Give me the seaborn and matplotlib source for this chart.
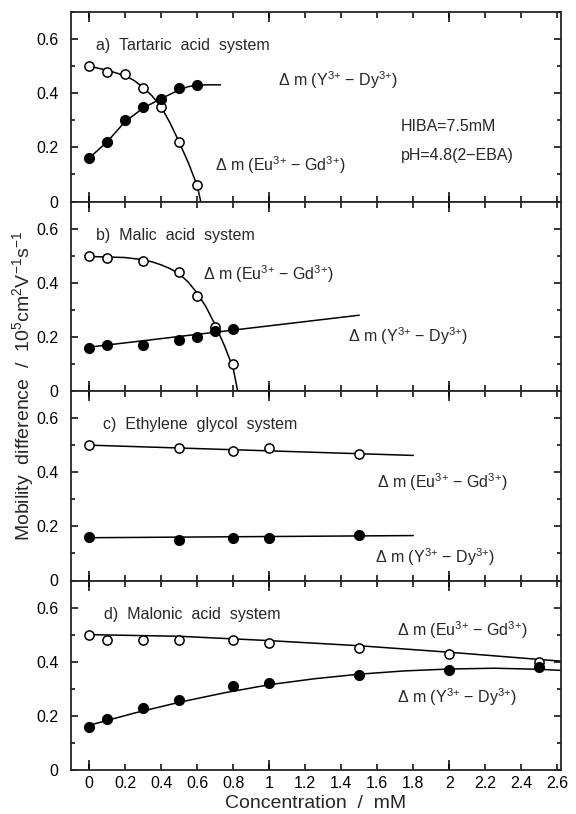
import numpy as np
import pandas as pd
import matplotlib
matplotlib.use("Agg")
import matplotlib.pyplot as plt
import seaborn as sns
from matplotlib.ticker import MultipleLocator, FixedLocator, FuncFormatter

# ---------------- data ----------------
# a) Tartaric acid system
tart_x = [0, 0.1, 0.2, 0.3, 0.4, 0.5, 0.6]
tart_eu = [0.50, 0.48, 0.47, 0.42, 0.35, 0.22, 0.06]
tart_y = [0.16, 0.22, 0.30, 0.35, 0.38, 0.42, 0.43]
tart_eu_fit_x = [0, 0.1, 0.2, 0.25, 0.3, 0.35, 0.4, 0.45, 0.5, 0.55, 0.6, 0.62]
tart_eu_fit_y = [0.50, 0.485, 0.465, 0.447, 0.422, 0.39, 0.35, 0.29, 0.22, 0.145, 0.06, 0.0]
tart_y_fit_x = [0, 0.1, 0.2, 0.3, 0.4, 0.5, 0.55, 0.6, 0.65, 0.73]
tart_y_fit_y = [0.16, 0.22, 0.295, 0.345, 0.38, 0.412, 0.424, 0.43, 0.431, 0.431]

# b) Malic acid system
mal_x = [0, 0.1, 0.3, 0.5, 0.6, 0.7, 0.8]
mal_eu = [0.50, 0.49, 0.48, 0.44, 0.35, 0.235, 0.10]
mal_y = [0.16, 0.17, 0.17, 0.19, 0.20, 0.22, 0.23]
mal_eu_fit_x = [0, 0.1, 0.2, 0.3, 0.35, 0.4, 0.45, 0.5, 0.55, 0.6, 0.65, 0.7, 0.75, 0.8, 0.825]
mal_eu_fit_y = [0.497, 0.495, 0.493, 0.485, 0.477, 0.466, 0.452, 0.433, 0.403, 0.362, 0.31, 0.245, 0.17, 0.085, 0.0]
mal_y_fit_x = [0, 1.5]
mal_y_fit_y = [0.162, 0.280]

# c) Ethylene glycol system
eth_x = [0, 0.5, 0.8, 1.0, 1.5]
eth_eu = [0.50, 0.49, 0.48, 0.488, 0.468]
eth_y = [0.16, 0.15, 0.158, 0.158, 0.167]
eth_eu_fit_x = [0, 1.8]
eth_eu_fit_y = [0.50, 0.462]
eth_y_fit_x = [0, 1.8]
eth_y_fit_y = [0.158, 0.166]

# d) Malonic acid system
maln_x = [0, 0.1, 0.3, 0.5, 0.8, 1.0, 1.5, 2.0, 2.5]
maln_eu = [0.50, 0.48, 0.48, 0.48, 0.48, 0.47, 0.45, 0.43, 0.40]
maln_y = [0.16, 0.19, 0.23, 0.26, 0.31, 0.32, 0.35, 0.37, 0.38]
maln_eu_fit_x = [0, 0.5, 1.0, 1.5, 2.0, 2.3, 2.62]
maln_eu_fit_y = [0.500, 0.494, 0.478, 0.459, 0.435, 0.419, 0.402]
maln_y_fit_x = [0, 0.25, 0.5, 0.75, 1.0, 1.25, 1.5, 1.75, 2.0, 2.25, 2.5, 2.62]
maln_y_fit_y = [0.165, 0.21, 0.25, 0.285, 0.315, 0.337, 0.354, 0.366, 0.373, 0.376, 0.372, 0.368]

panel_titles = ["a)  Tartaric  acid  system", "b)  Malic  acid  system",
                "c)  Ethylene  glycol  system", "d)  Malonic  acid  system"]
x_ticks = [0, 0.2, 0.4, 0.6, 0.8, 1.0, 1.2, 1.4, 1.6, 1.8, 2.0, 2.2, 2.4, 2.6]
y_ticks = [0, 0.2, 0.4, 0.6]

EU_LABEL = "\u0394 m (Eu$^{3{+}}$ \u2212 Gd$^{3{+}}$)"
Y_LABEL = "\u0394 m (Y$^{3{+}}$ \u2212 Dy$^{3{+}}$)"

panels = [
    dict(x=tart_x, eu=tart_eu, y=tart_y,
         eufx=tart_eu_fit_x, eufy=tart_eu_fit_y, yfx=tart_y_fit_x, yfy=tart_y_fit_y,
         title_x=0.04, eu_pos=(0.70, 0.135), y_pos=(1.05, 0.447)),
    dict(x=mal_x, eu=mal_eu, y=mal_y,
         eufx=mal_eu_fit_x, eufy=mal_eu_fit_y, yfx=mal_y_fit_x, yfy=mal_y_fit_y,
         title_x=0.04, eu_pos=(0.635, 0.432), y_pos=(1.44, 0.203)),
    dict(x=eth_x, eu=eth_eu, y=eth_y,
         eufx=eth_eu_fit_x, eufy=eth_eu_fit_y, yfx=eth_y_fit_x, yfy=eth_y_fit_y,
         title_x=0.08, eu_pos=(1.60, 0.362), y_pos=(1.59, 0.085)),
    dict(x=maln_x, eu=maln_eu, y=maln_y,
         eufx=maln_eu_fit_x, eufy=maln_eu_fit_y, yfx=maln_y_fit_x, yfy=maln_y_fit_y,
         title_x=0.085, eu_pos=(1.71, 0.516), y_pos=(1.71, 0.269)),
]

# ---------------- style ----------------
sns.set_style("ticks")
plt.rcParams["font.family"] = ["Liberation Sans", "DejaVu Sans"]
plt.rcParams["mathtext.fontset"] = "custom"
plt.rcParams["mathtext.rm"] = "Liberation Sans"
plt.rcParams["mathtext.it"] = "Liberation Sans:italic"
plt.rcParams["mathtext.bf"] = "Liberation Sans:bold"
plt.rcParams["axes.linewidth"] = 1.3

W, H = 576, 814
fig = plt.figure(figsize=(W / 100, H / 100), dpi=100)

left_px, right_px = 71, 561
top_px, bottom_px = 12, 770
ph = (bottom_px - top_px) / 4.0

fmt = FuncFormatter(lambda v, p: "%g" % round(v, 2))

for i, p in enumerate(panels):
    y0 = top_px + i * ph
    ax = fig.add_axes([left_px / W, 1 - (y0 + ph) / H, (right_px - left_px) / W, ph / H])

    sns.lineplot(x=p["eufx"], y=p["eufy"], ax=ax, color="black", lw=1.1,
                 sort=False, estimator=None, zorder=2)
    sns.lineplot(x=p["yfx"], y=p["yfy"], ax=ax, color="black", lw=1.1,
                 sort=False, estimator=None, zorder=2)
    sns.scatterplot(x=p["x"], y=p["eu"], ax=ax, marker="o", s=44,
                    facecolor="white", edgecolor="black", linewidth=1.1, zorder=3)
    sns.scatterplot(x=p["x"], y=p["y"], ax=ax, marker="o", s=52,
                    color="black", edgecolor="black", linewidth=0.8, zorder=4)

    ax.set_xlim(-0.1, 2.62)
    ax.set_ylim(0, 0.7)

    ax.xaxis.set_major_locator(FixedLocator(x_ticks))
    ax.xaxis.set_minor_locator(FixedLocator([0, 1, 2]))
    ax.xaxis.remove_overlapping_locs = False
    ax.yaxis.set_major_locator(FixedLocator(y_ticks))
    ax.yaxis.set_minor_locator(MultipleLocator(0.1))
    ax.yaxis.set_major_formatter(fmt)
    ax.xaxis.set_major_formatter(fmt)

    ax.tick_params(axis="both", which="both", direction="in",
                   top=True, right=True, width=1.1, colors="black")
    ax.tick_params(axis="x", which="major", length=4, labelsize=11.5, pad=4)
    ax.tick_params(axis="x", which="minor", length=7)
    ax.tick_params(axis="y", which="major", length=5, labelsize=11.5, pad=9)
    ax.tick_params(axis="y", which="minor", length=3)
    if i < 3:
        ax.tick_params(axis="x", labelbottom=False)

    ax.set_xlabel("")
    ax.set_ylabel("")
    for s in ax.spines.values():
        s.set_visible(True)
        s.set_linewidth(1.3)

    ax.text(p["title_x"], 0.575, panel_titles[i], fontsize=11.5, va="center", ha="left")
    ax.text(p["eu_pos"][0], p["eu_pos"][1], EU_LABEL, fontsize=11.5, va="center", ha="left")
    ax.text(p["y_pos"][0], p["y_pos"][1], Y_LABEL, fontsize=11.5, va="center", ha="left")
    if i == 0:
        ax.text(1.73, 0.277, "HIBA=7.5mM", fontsize=11.5, va="center", ha="left")
        ax.text(1.73, 0.17, "pH=4.8(2\u2212EBA)", fontsize=11.5, va="center", ha="left")

fig.text(23 / W, 1 - 386 / H,
         "Mobility  difference  /  10$^{5}$cm$^{2}$V$^{-1}$s$^{-1}$",
         rotation=90, va="center", ha="center", fontsize=14)
fig.text(((left_px + right_px) / 2) / W, 1 - 804 / H, "Concentration  /  mM",
         va="center", ha="center", fontsize=14)

fig.savefig("out.png", dpi=100)
